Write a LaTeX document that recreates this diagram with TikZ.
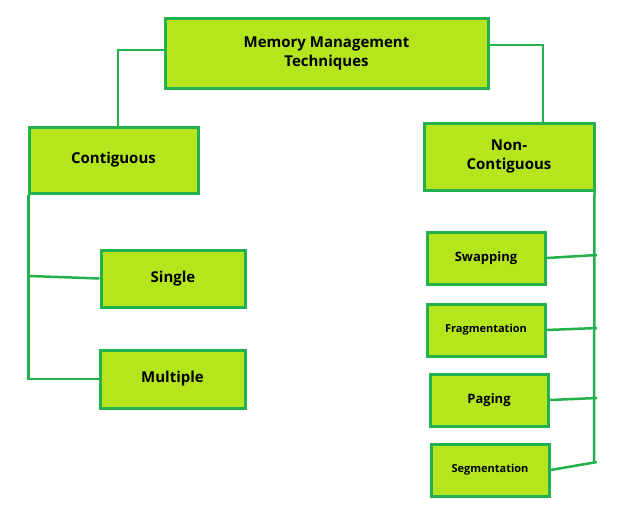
\documentclass[tikz,border=0pt]{standalone}
\usepackage{fontspec}
\setmainfont{Open Sans}
\definecolor{lime}{HTML}{B5E61D}
\definecolor{grn}{HTML}{22B14C}
\begin{document}
\begin{tikzpicture}[x=1pt,y=-1pt,
  box/.style={draw=grn,fill=lime,line width=3pt,inner sep=0pt,font=\bfseries,align=center},
  ln/.style={draw=grn,line width=2.5pt}]
\useasboundingbox[fill=white] (0,0) rectangle (640,512);
\node[box,minimum width=323,minimum height=70,font=\bfseries\fontsize{15}{19}\selectfont] (top) at (326.5,53) {Memory Management\\Techniques};
\node[box,minimum width=169,minimum height=66,font=\bfseries\fontsize{15}{19}\selectfont] (con) at (113.5,160) {Contiguous};
\node[box,minimum width=170,minimum height=67,font=\bfseries\fontsize{15}{19}\selectfont] (non) at (509,156.5) {Non-\\Contiguous};
\node[box,minimum width=144,minimum height=57,font=\bfseries\fontsize{15}{19}\selectfont] (sin) at (173,278.5) {Single};
\node[box,minimum width=145,minimum height=58,font=\bfseries\fontsize{15}{19}\selectfont] (mul) at (172.5,379) {Multiple};
\node[box,minimum width=118,minimum height=52,font=\bfseries\fontsize{13}{16}\selectfont] (swa) at (486,258) {Swapping};
\node[box,minimum width=118,minimum height=52,font=\bfseries\fontsize{11}{14}\selectfont] (fra) at (486,330) {Fragmentation};
\node[box,minimum width=118,minimum height=52,font=\bfseries\fontsize{13}{16}\selectfont] (pag) at (489,400) {Paging};
\node[box,minimum width=118,minimum height=52,font=\bfseries\fontsize{11}{14}\selectfont] (seg) at (490,470) {Segmentation};
\coordinate (r) at (594,462);
\draw[ln] (top.west |- 0,50) -| (con.north -| 118,0);
\draw[ln] (top.east |- 0,45) -| (non.north -| 543,0);
\draw[ln] (con.south west) ++(1,0) |- (mul.west);
\draw[ln] (30,276) -- (sin.west);
\draw[ln] (non.south east) ++(-1,0) -- (r);
\draw[ln] (swa.east) -- (597,255);
\draw[ln] (fra.east) -- (597,328);
\draw[ln] (pag.east) -- (597,398);
\draw[ln] (seg.east) -- (597,462);
\end{tikzpicture}
\end{document}
